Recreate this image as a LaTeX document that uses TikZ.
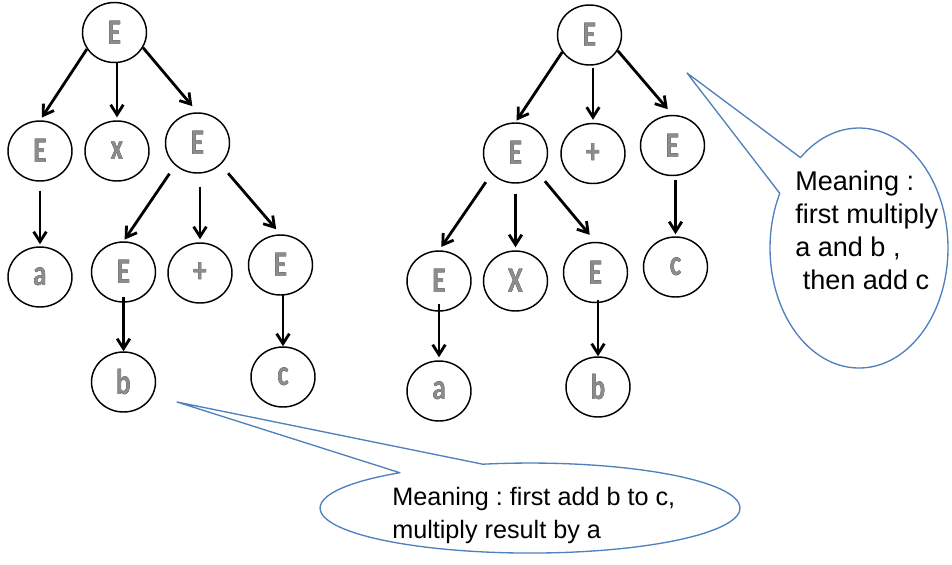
\documentclass[tikz,border=0pt]{standalone}
\usepackage{fontspec}
\usepackage{pdfrender}
\setmainfont{Liberation Sans}
\newfontfamily\symfont{Carlito}[FakeStretch=0.76]
\usetikzlibrary{arrows.meta,shapes.geometric}
\frenchspacing

\definecolor{calloutblue}{HTML}{4F81BD}
\definecolor{glyphgray}{HTML}{8C8C8C}

% outlined, grey-filled letters for the tree symbols:
% a thick black stroked copy underneath, the grey letter on top
\newcommand{\glyph}[1]{\rlap{\textpdfrender{TextRenderingMode=FillStroke,
  LineWidth=1.3pt}{#1}}\textcolor{glyphgray}{#1}}

\begin{document}
\begin{tikzpicture}[x=0.75pt,y=-0.75pt,
  term/.style={ellipse, draw, line width=1.1pt, minimum width=48pt,
    minimum height=45pt, inner sep=0pt,
    font=\symfont\bfseries\fontsize{27}{27}\selectfont},
  arr/.style={-{Straight Barb[length=7.5pt,width=9.5pt]}, line width=2.1pt},
  callout/.style={draw=calloutblue, line width=1pt, fill=white, line join=round},
  noteA/.style={anchor=base west, inner sep=0pt, font=\fontsize{20.3}{24}\selectfont},
  noteB/.style={anchor=base west, inner sep=0pt, font=\fontsize{18.9}{24}\selectfont}
]
\useasboundingbox (0,0) rectangle (952,564);

% ---- tree 1: a x (b + c)
\node[term] (rL) at (114.5,32.5) {\glyph{E}};
\node[term] (e1) at (40,151)     {\glyph{E}};
\node[term] (x1) at (117,151)    {\glyph{x}};
\node[term] (e2) at (197.5,143)  {\glyph{E}};
\node[term] (a1) at (40,277)     {\glyph{a}};
\node[term] (e3) at (123.5,272)  {\glyph{E}};
\node[term] (p1) at (200,273)    {\glyph{+}};
\node[term] (e4) at (280.5,265)  {\glyph{E}};
\node[term] (b1) at (123.5,382)  {\glyph{b}};
\node[term] (c1) at (283,377)    {\glyph{c}};

\draw[arr, shorten >=2.4pt] (rL.211) -- (e1.north);
\draw[arr, shorten >=2.2pt] (rL.south -| x1.north) -- (x1.north);
\draw[arr, shorten >=6pt] (rL.-28) -- (e2.north);
\draw[arr, shorten <=6.75pt, shorten >=1.5pt] (e1.south) -- (a1.north);
\draw[arr, shorten <=7.5pt, shorten >=1.5pt] (e2.225) -- (e3.north);
\draw[arr, shorten <=9.75pt, shorten >=2.25pt] (e2.south -| p1.north) -- (p1.north);
\draw[arr, shorten <=8.5pt, shorten >=5pt] (e2.-43) -- (e4.north);
\draw[arr, shorten <=-4.5pt] (e3.south) -- (b1.north);
\draw[arr, shorten <=-1.5pt] (e4.south -| c1.north) -- (c1.north);

% ---- tree 2: (a X b) + c
\node[term] (rR) at (589.5,35)   {\glyph{E}};
\node[term] (e5) at (515.5,153)  {\glyph{E}};
\node[term] (p2) at (593,153.5)  {\glyph{+}};
\node[term] (e6) at (672.5,145.5){\glyph{E}};
\node[term] (e7) at (439,281)    {\glyph{E}};
\node[term] (x2) at (515.5,281)  {\glyph{X}};
\node[term] (e8) at (595.5,272.5){\glyph{E}};
\node[term] (c2) at (675.5,267)  {\glyph{c}};
\node[term] (a2) at (439,391)    {\glyph{a}};
\node[term] (b2) at (598,387)    {\glyph{b}};

\draw[arr, shorten >=1.5pt] (rR.212) -- (e5.north);
\draw[arr, shorten <=1.5pt, shorten >=2.25pt] (rR.south -| p2.north) -- (p2.north);
\draw[arr, shorten >=5.5pt] (rR.-29) -- (e6.north);
\draw[arr, shorten <=7.5pt, shorten >=3pt] (e5.221) -- (e7.north);
\draw[arr, shorten <=7.5pt, shorten >=2.25pt] (e5.south) -- (x2.north);
\draw[arr, shorten <=6.75pt, shorten >=6.75pt] (e5.-42) -- (e8.north);
\draw[arr, shorten <=3pt, shorten >=1.5pt] (e6.south -| c2.north) -- (c2.north);
\draw[arr, shorten <=-6pt, shorten >=2.25pt] (e7.south) -- (a2.north);
\draw[arr, shorten <=-2.25pt] (e8.south -| b2.north) -- (b2.north);

% ---- callout balloons
\coordinate (tipR) at (687,73);
\draw[callout] (tipR) -- (800.5,157.6)
  arc[start angle=131.1, end angle=-207.1, x radius=66.75pt, y radius=90pt] -- cycle;
\node[noteA] (mR1) at (795,190.5) {Meaning :};
\node[noteA] (mR2) at (795,223.5) {first multiply};
\node[noteA] (mR3) at (795,256.5) {a and b ,};
\node[noteA] (mR4) at (802.5,289.5) {then add c};

\coordinate (tipB) at (177,402);
\draw[callout] (tipB) -- (482.8,464.2)
  arc[start angle=103, end angle=-231.7, x radius=157.5pt, y radius=33.75pt] -- cycle;
\node[noteB] (mB1) at (392,505) {Meaning : first add b to c,};
\node[noteB] (mB2) at (392,538.5) {multiply result by a};
\end{tikzpicture}
\end{document}
